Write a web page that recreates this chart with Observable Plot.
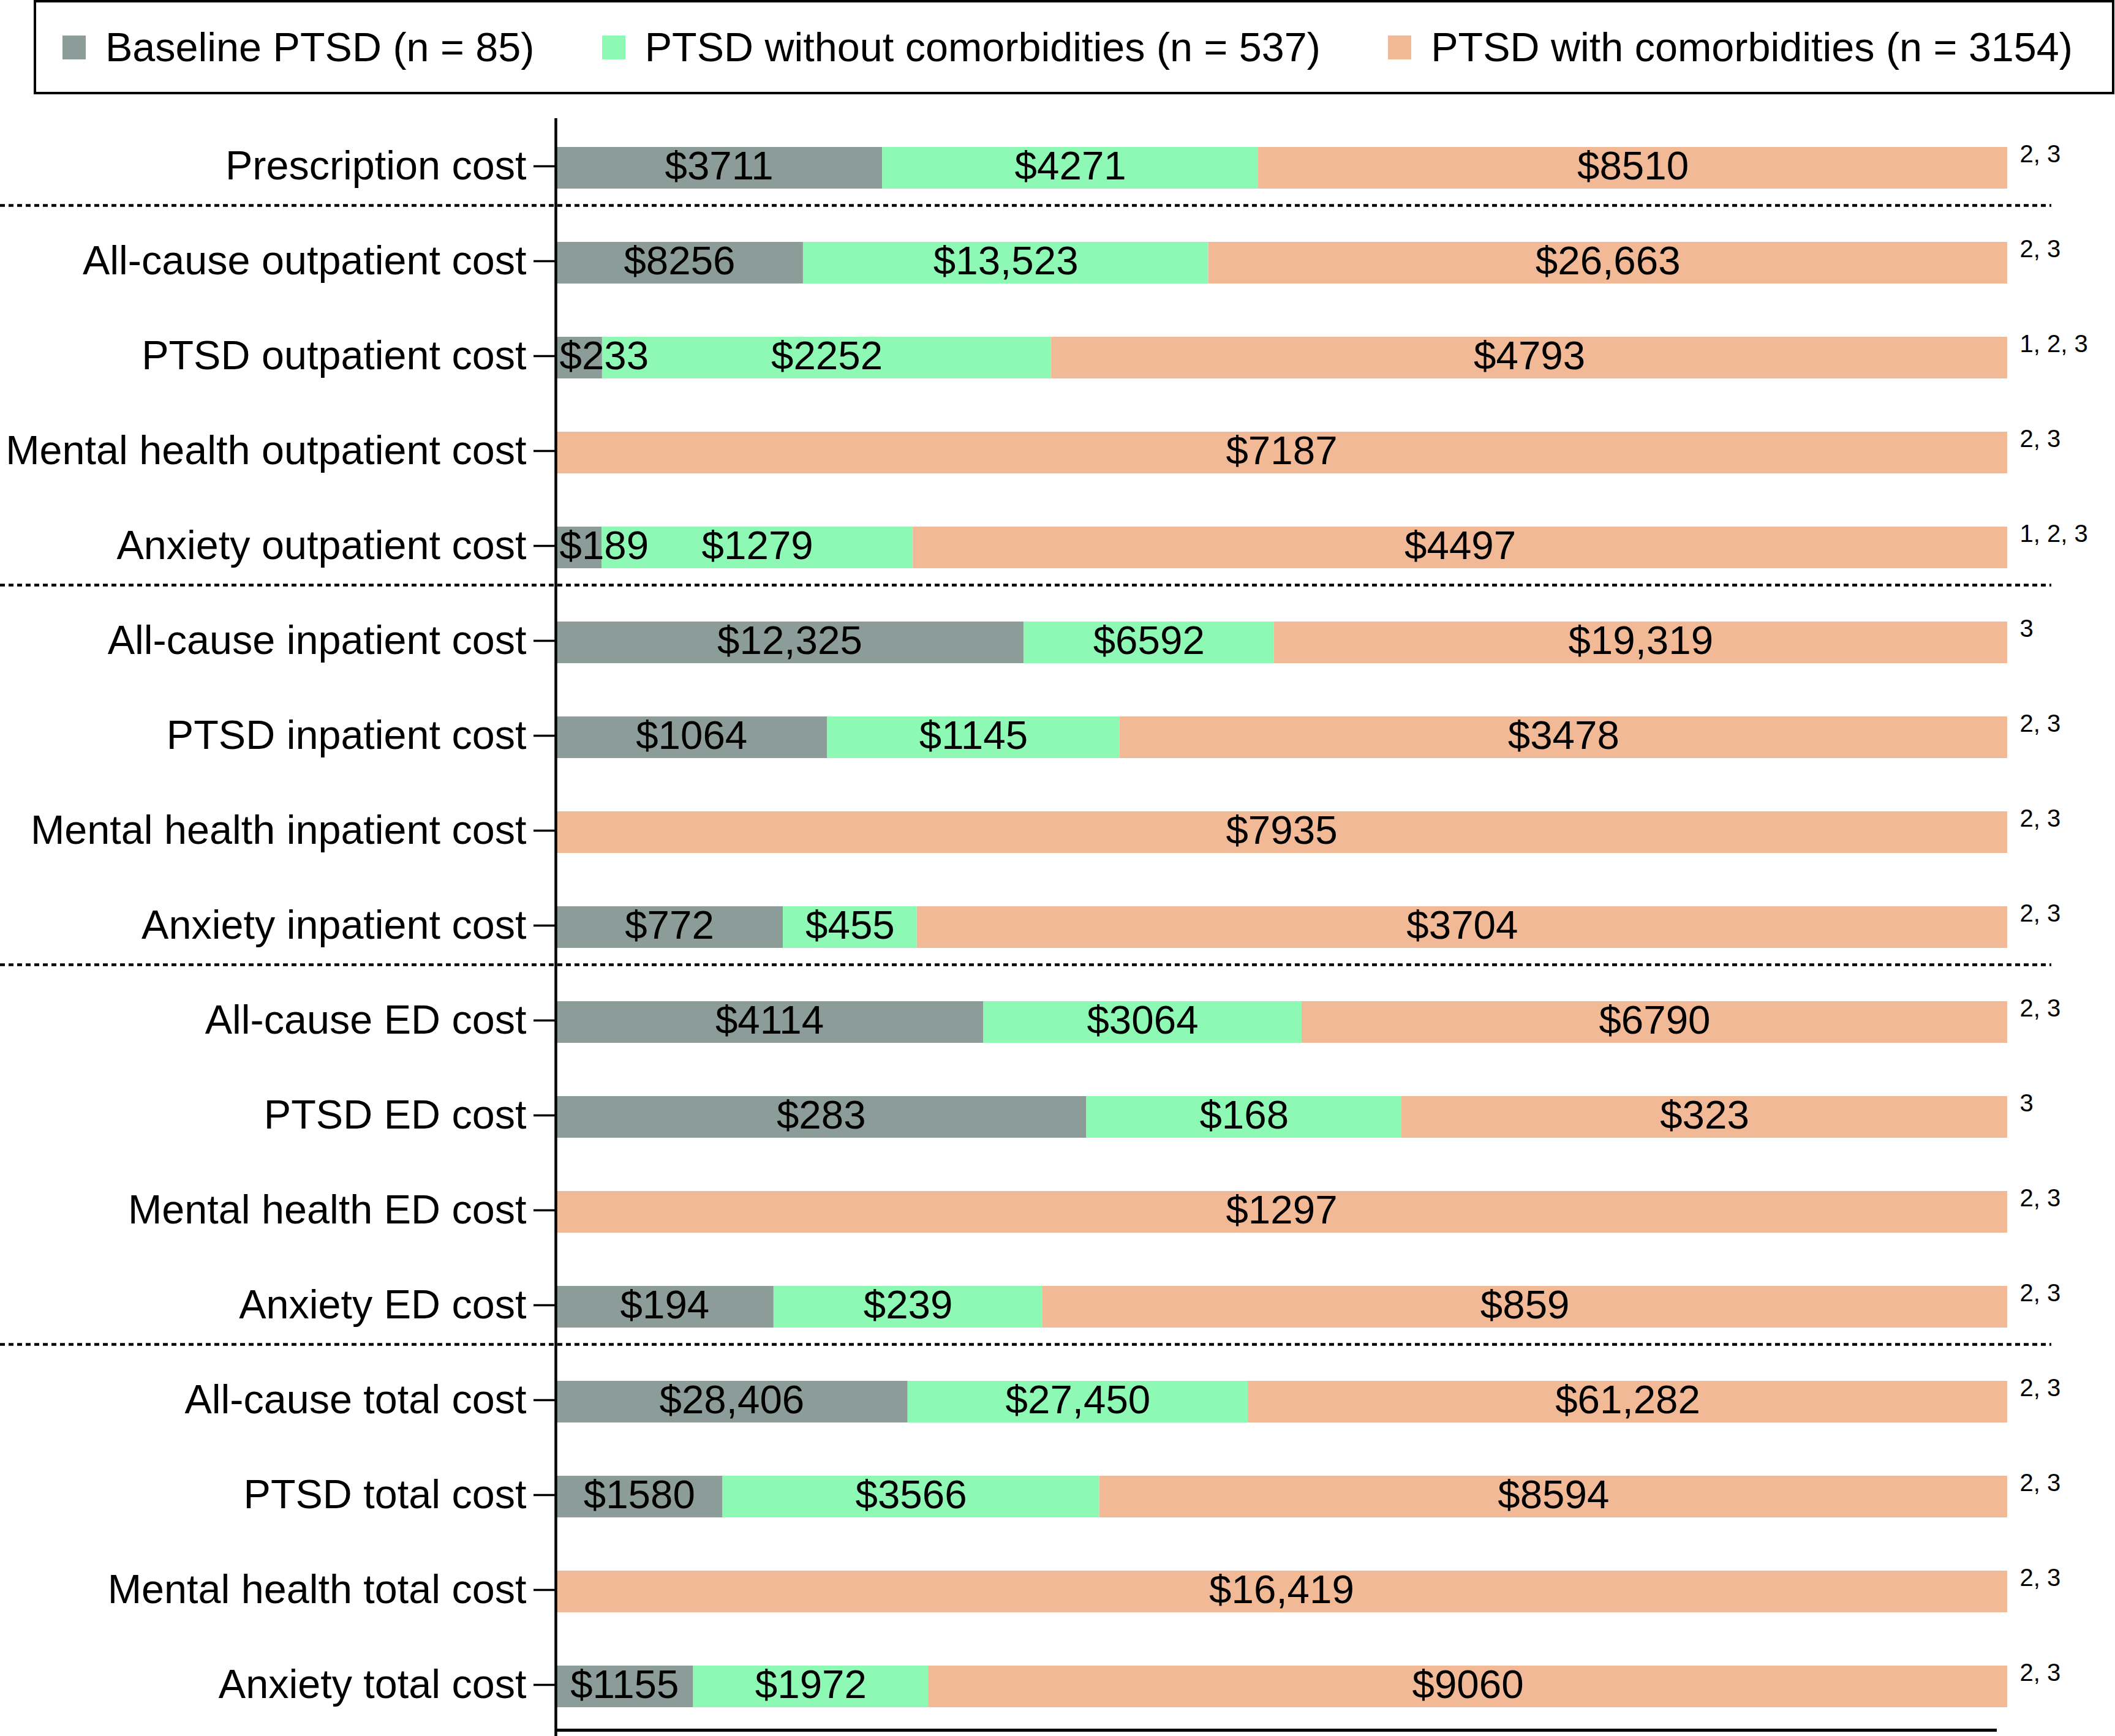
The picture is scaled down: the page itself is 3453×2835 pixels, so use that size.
<!DOCTYPE html>
<html>
<head>
<meta charset="utf-8">
<script src="https://cdn.jsdelivr.net/npm/d3@7"></script>
<script src="https://cdn.jsdelivr.net/npm/@observablehq/plot@0.6"></script>
<style>
  html, body { margin: 0; padding: 0; background: white; }
  body { width: 3453px; height: 2835px; position: relative; font-family: "Liberation Sans", Arial, Helvetica, sans-serif; }
  #legend {
    position: absolute; left: 55px; top: 0; width: 3397px; height: 154px;
    box-sizing: border-box; border: 4.5px solid black;
    display: flex; align-items: center; justify-content: space-between;
    padding: 0 64px 0 43px; font-size: 66.5px; color: black;
  }
  .item { display: flex; align-items: center; white-space: nowrap; }
  .sw { width: 38px; height: 39px; margin-right: 32px; }
  #chart { position: absolute; left: 0; top: 154px; }
</style>
</head>
<body>
<div id="legend"></div>
<div id="chart"></div>
<script>
const costs = [
  "Prescription cost",
  "All-cause outpatient cost",
  "PTSD outpatient cost",
  "Mental health outpatient cost",
  "Anxiety outpatient cost",
  "All-cause inpatient cost",
  "PTSD inpatient cost",
  "Mental health inpatient cost",
  "Anxiety inpatient cost",
  "All-cause ED cost",
  "PTSD ED cost",
  "Mental health ED cost",
  "Anxiety ED cost",
  "All-cause total cost",
  "PTSD total cost",
  "Mental health total cost",
  "Anxiety total cost"
];
const baselinePTSD = [3711, 8256, 233, null, 189, 12325, 1064, null, 772, 4114, 283, null, 194, 28406, 1580, null, 1155];
const withoutComorb = [4271, 13523, 2252, null, 1279, 6592, 1145, null, 455, 3064, 168, null, 239, 27450, 3566, null, 1972];
const withComorb = [8510, 26663, 4793, 7187, 4497, 19319, 3478, 7935, 3704, 6790, 323, 1297, 859, 61282, 8594, 16419, 9060];
const notes = ["2, 3", "2, 3", "1, 2, 3", "2, 3", "1, 2, 3", "3", "2, 3", "2, 3", "2, 3", "2, 3", "3", "2, 3", "2, 3", "2, 3", "2, 3", "2, 3", "2, 3"];
const groups = ["Baseline PTSD (n = 85)", "PTSD without comorbidities (n = 537)", "PTSD with comorbidities (n = 3154)"];
const colors = ["#8c9c98", "#8ef9b4", "#f2b996"];
const separatorsAfter = ["Prescription cost", "Anxiety outpatient cost", "Anxiety inpatient cost", "Anxiety ED cost"];

// legend
const legend = document.getElementById("legend");
groups.forEach((g, i) => {
  const it = document.createElement("div");
  it.className = "item";
  const sw = document.createElement("div");
  sw.className = "sw";
  sw.style.background = colors[i];
  const t = document.createElement("span");
  t.textContent = g;
  it.appendChild(sw); it.appendChild(t);
  legend.appendChild(it);
});

// long data
const series = [baselinePTSD, withoutComorb, withComorb];
const data = [];
costs.forEach((c, i) => {
  const total = d3.sum(series, s => s[i] ?? 0);
  series.forEach((s, k) => {
    if (s[i] != null) data.push({cost: c, group: groups[k], value: s[i], share: s[i] / total});
  });
});
const rows = costs.map((c, i) => ({cost: c, note: notes[i]}));
const fmt = v => "$" + (v >= 10000 ? d3.format(",")(v) : String(v));
const narrow = d => d.share < 0.05;

const chart = Plot.plot({
  width: 3453,
  height: 2681,
  marginTop: 39,
  marginBottom: 0,
  marginLeft: 907,
  marginRight: 176,
  style: {fontFamily: '"Liberation Sans", Arial, Helvetica, sans-serif', color: "black", background: "white"},
  x: {domain: [0, 1], axis: null},
  y: {domain: costs, paddingInner: 0.56, paddingOuter: 0.28, axis: null},
  color: {domain: groups, range: colors},
  marks: [
    Plot.ruleY(separatorsAfter, {y: d => d, dy: 61, insetLeft: -907, insetRight: -72, stroke: "black", strokeWidth: 4.5, strokeDasharray: "8,6"}),
    Plot.barX(data, Plot.stackX({x: "value", y: "cost", z: "group", fill: "group", offset: "normalize"})),
    Plot.text(data, Plot.stackX({x: "value", y: "cost", z: "group", offset: "normalize",
      text: d => narrow(d) ? null : fmt(d.value), fontSize: 65.5, dy: -2, fill: "black"})),
    Plot.text(data, Plot.stackX1({x: "value", y: "cost", z: "group", offset: "normalize",
      text: d => narrow(d) ? fmt(d.value) : null, textAnchor: "start", dx: 6, dy: -2, fontSize: 65.5, fill: "black"})),
    Plot.text(rows, {y: "cost", text: "note", frameAnchor: "right", textAnchor: "start", dx: 20, dy: -22, fontSize: 40, fill: "black"}),
    Plot.axisY({domain: costs, tickSize: 36, tickPadding: 12, fontSize: 66.5, dy: -3, strokeWidth: 3.5, label: null}),
    Plot.ruleX([0], {stroke: "black", strokeWidth: 4.5}),
    Plot.ruleY([costs[costs.length - 1]], {y: d => d, dy: 71, insetRight: 17, stroke: "black", strokeWidth: 5})
  ]
});
document.getElementById("chart").appendChild(chart);
</script>
</body>
</html>
